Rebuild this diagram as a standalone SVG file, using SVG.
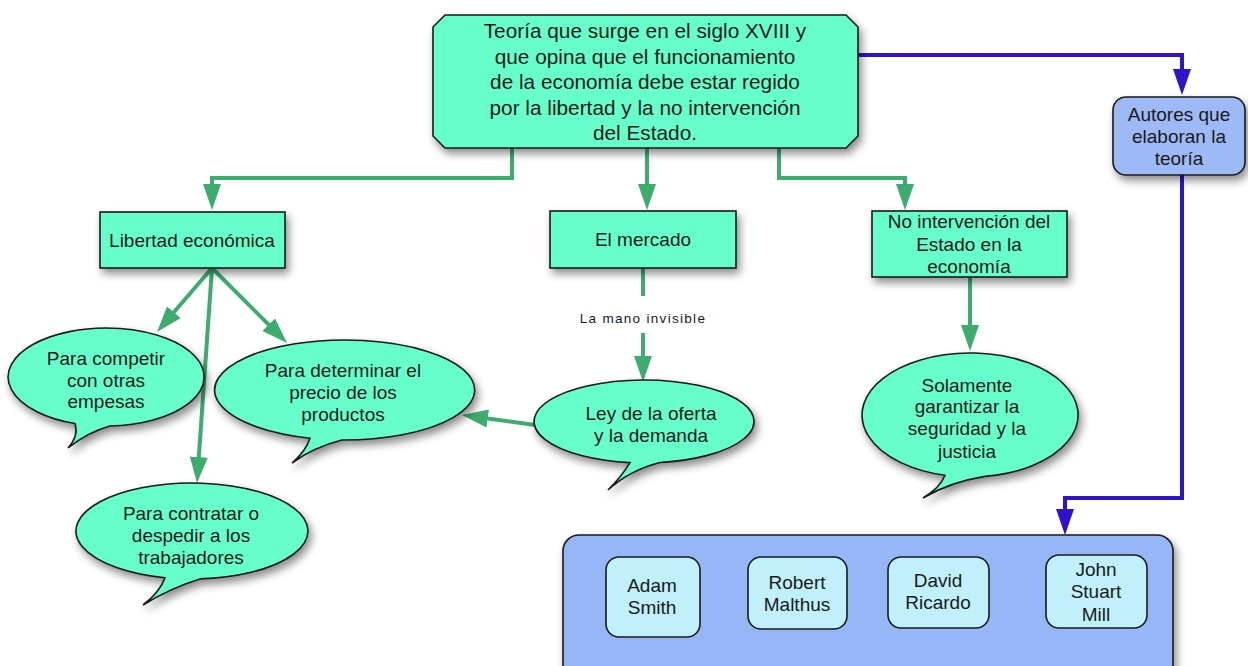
<svg xmlns="http://www.w3.org/2000/svg" width="1248" height="666" viewBox="0 0 1248 666">
<defs>
<filter id="sh" x="-20%" y="-20%" width="140%" height="150%">
<feDropShadow dx="3" dy="5" stdDeviation="4" flood-color="#000" flood-opacity="0.45"/>
</filter>
<marker id="ag" markerUnits="userSpaceOnUse" markerWidth="26" markerHeight="18" refX="6" refY="9" orient="auto">
<path d="M0,0 L26,9 L0,18 Z" fill="#3dad6f"/>
</marker>
<marker id="ab" markerUnits="userSpaceOnUse" markerWidth="26" markerHeight="18" refX="6" refY="9" orient="auto">
<path d="M0,0 L26,9 L0,18 Z" fill="#3312cc"/>
</marker>
</defs>
<style>
text{font-family:"Liberation Sans",Arial,sans-serif;font-size:19px;fill:#1a1a1a;text-anchor:middle}
.big{font-size:20.8px}
.g{fill:#66ffcc;stroke:#1a1a1a;stroke-width:1.6;filter:url(#sh)}
.cont{fill:#97b6f6;stroke:#1a1a1a;stroke-width:1.6;filter:url(#sh)}
.inner{fill:#bff0fb;stroke:#1a1a1a;stroke-width:1.6}
.cg{fill:none;stroke:#3dad6f;stroke-width:4;marker-end:url(#ag)}
.cgn{fill:none;stroke:#3dad6f;stroke-width:4}
.cb{fill:none;stroke:#3312cc;stroke-width:4;marker-end:url(#ab)}
.lbl{font-size:13.5px;letter-spacing:1.3px}
</style>

<g id="connectors">
<path class="cg" d="M512,148 V178 H212 V190"/>
<path class="cg" d="M647,148 V190"/>
<path class="cg" d="M779,148 V178 H905 V190"/>
<path class="cg" d="M212,268 L170,316.8"/>
<path class="cg" d="M212,268 L272.9,328.9"/>
<path class="cg" d="M212,268 L198.4,463"/>
<path class="cgn" d="M643,268 V296"/>
<path class="cg" d="M643,333 V362"/>
<text class="lbl" x="643" y="323">La mano invisible</text>
<path class="cg" d="M535,425 L481.8,417.7"/>
<path class="cg" d="M970,277 V331"/>
<path class="cb" d="M858,55 H1182 V75"/>
<path class="cb" d="M1182,175 V498 H1065 V515"/>
</g>

<g id="teoria">
<path class="g" d="M445,15 H846 L858,27 V136 L846,148 H445 L433,136 V27 Z"/>
<text class="big" x="645" y="38">Teoría que surge en el siglo XVIII y</text>
<text class="big" x="645" y="63.5">que opina que el funcionamiento</text>
<text class="big" x="645" y="89">de la economía debe estar regido</text>
<text class="big" x="645" y="114.5">por la libertad y la no intervención</text>
<text class="big" x="645" y="140">del Estado.</text>
</g>

<g id="libertad">
<rect class="g" x="100" y="212" width="185" height="56"/>
<text x="192" y="247">Libertad económica</text>
</g>

<g id="mercado">
<rect class="g" x="550" y="211" width="186" height="57"/>
<text x="643" y="246">El mercado</text>
</g>

<g id="nointervencion">
<rect class="g" x="872" y="211" width="195" height="66"/>
<text x="969" y="228">No intervención del</text>
<text x="969" y="251">Estado en la</text>
<text x="969" y="273">economía</text>
</g>

<g id="autores">
<rect class="g" x="1113" y="97" width="132" height="78" rx="13" style="fill:#9db9f6"/>
<text x="1179" y="121">Autores que</text>
<text x="1179" y="143">elaboran la</text>
<text x="1179" y="165">teoría</text>
</g>

<g id="competir">
<path class="g" d="M75,423.5 A98,49 0 1 1 110,426 Q88,432 68,448 Q79,436 75,423.5 Z"/>
<text x="106" y="365">Para competir</text>
<text x="106" y="387">con otras</text>
<text x="106" y="408">empesas</text>
</g>

<g id="determinar">
<path class="g" d="M310,438.2 A130,50 0 1 1 342,440 Q314,447 292,463 Q306,451 310,438.2 Z"/>
<text x="343" y="377">Para determinar el</text>
<text x="343" y="399">precio de los</text>
<text x="343" y="421">productos</text>
</g>

<g id="contratar">
<path class="g" d="M165,577.7 A116,48 0 1 1 200,578.9 Q170,588 143,605 Q160,592 165,577.7 Z"/>
<text x="191" y="520">Para contratar o</text>
<text x="191" y="542">despedir a los</text>
<text x="191" y="564">trabajadores</text>
</g>

<g id="ley">
<path class="g" d="M630,462.6 A110,41.5 0 1 1 660,462.5 Q630,470 608,490 Q622,476 630,462.6 Z"/>
<text x="651" y="420">Ley de la oferta</text>
<text x="651" y="442">y la demanda</text>
</g>

<g id="solamente">
<path class="g" d="M945,475.3 A108,62 0 1 1 985,476.4 Q950,482 923,498 Q940,488 945,475.3 Z"/>
<text x="967" y="392">Solamente</text>
<text x="967" y="413">garantizar la</text>
<text x="967" y="435">seguridad y la</text>
<text x="967" y="458">justicia</text>
</g>

<g id="autores-grupo">
<rect class="cont" x="563" y="535" width="610" height="160" rx="16"/>
<g id="adam">
<rect class="inner" x="606" y="557" width="94" height="80" rx="13"/>
<text x="652" y="592">Adam</text>
<text x="652" y="614">Smith</text>
</g>
<g id="malthus">
<rect class="inner" x="748" y="557" width="99" height="72" rx="13"/>
<text x="797" y="589">Robert</text>
<text x="797" y="611">Malthus</text>
</g>
<g id="ricardo">
<rect class="inner" x="888" y="557" width="101" height="71" rx="13"/>
<text x="938" y="587">David</text>
<text x="938" y="609">Ricardo</text>
</g>
<g id="mill">
<rect class="inner" x="1046" y="555" width="101" height="73" rx="13"/>
<text x="1096" y="576">John</text>
<text x="1096" y="598">Stuart</text>
<text x="1096" y="621">Mill</text>
</g>
</g>
</svg>
